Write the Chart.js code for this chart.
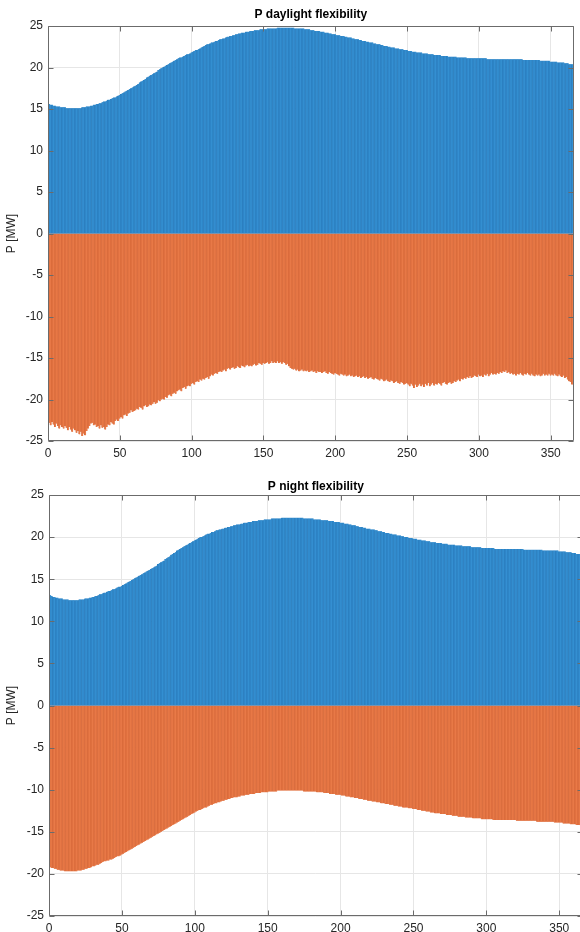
<!DOCTYPE html>
<html>
<head>
<meta charset="utf-8">
<script src="https://cdn.jsdelivr.net/npm/chart.js@4.4.1/dist/chart.umd.min.js"></script>
<style>
  html, body { margin: 0; padding: 0; background: #fff; width: 580px; height: 932px; overflow: hidden; }
  #top { position: absolute; left: 0; top: 0; width: 580px; height: 466px; }
  #bottom { position: absolute; left: 0; top: 466px; width: 590px; height: 466px; }
</style>
</head>
<body>
<div id="top"><canvas id="dayChart"></canvas></div>
<div id="bottom"><canvas id="nightChart"></canvas></div>
<script>
// P daylight flexibility, upward (MW), day 1..365
const dayPos = [
  15.6,15.5,15.5,15.4,15.4,15.3,15.3,15.3,15.2,15.2,
  15.2,15.2,15.1,15.1,15.1,15.1,15.1,15.1,15.1,15.1,
  15.1,15.1,15.1,15.2,15.2,15.2,15.3,15.3,15.3,15.4,
  15.4,15.5,15.5,15.6,15.6,15.7,15.7,15.8,15.9,15.9,
  16.0,16.1,16.1,16.2,16.3,16.4,16.4,16.5,16.6,16.7,
  16.8,16.9,17.0,17.1,17.2,17.3,17.4,17.5,17.6,17.7,
  17.8,17.9,18.0,18.2,18.3,18.4,18.5,18.6,18.8,18.9,
  19.0,19.1,19.2,19.3,19.4,19.5,19.7,19.8,19.9,20.0,
  20.1,20.2,20.3,20.4,20.5,20.6,20.7,20.8,20.9,21.0,
  21.1,21.2,21.2,21.3,21.4,21.5,21.6,21.6,21.7,21.8,
  21.9,22.0,22.1,22.1,22.2,22.3,22.4,22.5,22.6,22.7,
  22.8,22.8,22.9,23.0,23.0,23.1,23.2,23.2,23.3,23.4,
  23.4,23.5,23.5,23.6,23.7,23.7,23.8,23.8,23.9,23.9,
  24.0,24.0,24.1,24.1,24.2,24.2,24.2,24.3,24.3,24.3,
  24.4,24.4,24.4,24.5,24.5,24.5,24.5,24.6,24.6,24.6,
  24.6,24.6,24.7,24.7,24.7,24.7,24.7,24.7,24.7,24.8,
  24.8,24.8,24.8,24.8,24.8,24.8,24.8,24.8,24.8,24.8,
  24.8,24.7,24.7,24.7,24.7,24.7,24.7,24.7,24.6,24.6,
  24.6,24.6,24.5,24.5,24.5,24.4,24.4,24.4,24.4,24.3,
  24.3,24.3,24.2,24.2,24.2,24.1,24.1,24.0,24.0,24.0,
  23.9,23.9,23.9,23.8,23.8,23.8,23.7,23.7,23.6,23.6,
  23.6,23.5,23.5,23.4,23.4,23.4,23.3,23.3,23.2,23.2,
  23.2,23.1,23.1,23.0,23.0,23.0,22.9,22.9,22.8,22.8,
  22.8,22.7,22.7,22.6,22.6,22.6,22.5,22.5,22.4,22.4,
  22.4,22.3,22.3,22.3,22.2,22.2,22.2,22.1,22.1,22.1,
  22.0,22.0,22.0,21.9,21.9,21.9,21.8,21.8,21.8,21.8,
  21.7,21.7,21.7,21.7,21.6,21.6,21.6,21.6,21.5,21.5,
  21.5,21.5,21.5,21.4,21.4,21.4,21.4,21.4,21.3,21.3,
  21.3,21.3,21.3,21.3,21.2,21.2,21.2,21.2,21.2,21.2,
  21.2,21.1,21.1,21.1,21.1,21.1,21.1,21.1,21.1,21.1,
  21.1,21.1,21.1,21.1,21.1,21.0,21.0,21.0,21.0,21.0,
  21.0,21.0,21.0,21.0,21.0,21.0,21.0,21.0,21.0,21.0,
  21.0,21.0,21.0,21.0,21.0,21.0,21.0,21.0,21.0,21.0,
  20.9,20.9,20.9,20.9,20.9,20.9,20.9,20.9,20.9,20.9,
  20.9,20.9,20.8,20.8,20.8,20.8,20.8,20.8,20.8,20.7,
  20.7,20.7,20.7,20.7,20.6,20.6,20.6,20.6,20.6,20.5,
  20.5,20.5,20.4,20.4,20.4
];

// P daylight flexibility, downward (MW)
const dayNeg = [
  -22.8,-23.1,-22.7,-23.0,-23.3,-22.9,-23.2,-23.5,-23.1,-23.3,
  -23.5,-23.2,-23.4,-23.7,-23.3,-23.6,-23.9,-23.5,-23.7,-24.0,
  -23.8,-24.2,-23.9,-24.4,-24.1,-24.3,-23.8,-23.5,-23.2,-22.9,
  -22.8,-23.1,-23.0,-23.3,-23.2,-23.5,-23.1,-23.4,-23.3,-23.6,
  -23.3,-23.0,-23.1,-22.7,-22.9,-23.0,-22.6,-22.4,-22.6,-22.3,
  -22.1,-22.3,-21.9,-21.8,-22.0,-21.7,-21.6,-21.3,-21.5,-21.4,
  -21.3,-21.1,-21.2,-20.9,-21.0,-21.2,-20.8,-20.7,-20.9,-20.8,
  -20.6,-20.7,-20.5,-20.3,-20.5,-20.4,-20.1,-20.2,-20.0,-19.9,
  -20.0,-19.7,-19.8,-19.5,-19.4,-19.6,-19.3,-19.2,-19.3,-19.0,
  -18.9,-18.8,-19.0,-18.6,-18.5,-18.7,-18.4,-18.3,-18.4,-18.1,
  -18.0,-18.2,-17.9,-17.8,-17.9,-17.6,-17.7,-17.5,-17.6,-17.4,
  -17.3,-17.5,-17.2,-17.0,-17.1,-16.9,-16.8,-16.9,-16.7,-16.6,
  -16.7,-16.5,-16.4,-16.6,-16.3,-16.2,-16.4,-16.2,-16.1,-16.3,
  -16.2,-16.0,-16.1,-16.2,-15.9,-16.0,-16.1,-15.9,-15.8,-16.0,
  -15.9,-16.0,-15.8,-15.7,-15.9,-15.8,-15.6,-15.7,-15.8,-15.6,
  -15.7,-15.6,-15.5,-15.7,-15.6,-15.4,-15.6,-15.5,-15.6,-15.4,
  -15.6,-15.5,-15.7,-15.5,-15.6,-15.8,-15.7,-16.0,-16.2,-16.3,
  -16.4,-16.3,-16.5,-16.4,-16.6,-16.5,-16.4,-16.6,-16.5,-16.6,
  -16.5,-16.7,-16.6,-16.5,-16.7,-16.6,-16.8,-16.6,-16.7,-16.7,
  -16.8,-16.7,-16.6,-16.8,-16.9,-16.7,-16.8,-16.9,-17.0,-16.8,
  -16.9,-17.0,-17.1,-16.9,-17.0,-17.1,-17.0,-17.2,-17.1,-17.0,
  -17.2,-17.1,-17.3,-17.2,-17.1,-17.3,-17.2,-17.4,-17.3,-17.2,
  -17.4,-17.3,-17.5,-17.4,-17.3,-17.5,-17.6,-17.4,-17.5,-17.6,
  -17.7,-17.5,-17.6,-17.8,-17.7,-17.6,-17.8,-17.9,-17.7,-17.8,
  -18.0,-17.9,-17.8,-18.0,-18.1,-17.9,-18.0,-18.2,-18.1,-18.0,
  -18.2,-18.4,-18.1,-18.3,-18.6,-18.2,-18.5,-18.3,-18.1,-18.4,
  -18.2,-18.5,-18.1,-18.3,-18.0,-18.4,-18.2,-18.0,-18.3,-18.1,
  -18.2,-18.0,-18.1,-18.3,-18.0,-17.9,-18.1,-18.2,-18.0,-17.9,
  -18.1,-18.0,-17.8,-17.9,-17.7,-17.6,-17.8,-17.5,-17.6,-17.4,
  -17.5,-17.3,-17.4,-17.2,-17.4,-17.3,-17.1,-17.2,-17.3,-17.0,
  -17.2,-17.1,-17.3,-17.0,-17.1,-16.9,-17.2,-17.0,-16.8,-17.0,
  -16.9,-17.0,-16.8,-16.9,-16.7,-16.8,-16.6,-16.7,-16.5,-16.8,
  -16.7,-16.9,-16.8,-17.0,-16.9,-17.1,-16.9,-17.0,-16.8,-17.0,
  -17.1,-16.9,-17.0,-16.8,-17.0,-17.1,-16.9,-17.1,-17.2,-17.0,
  -17.1,-17.0,-17.2,-17.1,-16.9,-17.1,-17.0,-17.1,-16.9,-17.1,
  -17.0,-17.1,-16.9,-17.1,-17.2,-17.0,-17.2,-17.3,-17.1,-17.4,
  -17.3,-17.6,-17.8,-17.9,-18.2
];

// P night flexibility, upward (MW)
const nightPos = [
  13.1,13.0,12.9,12.9,12.8,12.8,12.7,12.7,12.7,12.6,
  12.6,12.6,12.6,12.5,12.5,12.5,12.5,12.5,12.5,12.5,
  12.6,12.6,12.6,12.6,12.7,12.7,12.7,12.8,12.8,12.9,
  12.9,13.0,13.0,13.1,13.2,13.2,13.3,13.4,13.4,13.5,
  13.6,13.6,13.7,13.8,13.8,13.9,14.0,14.1,14.1,14.2,
  14.3,14.4,14.5,14.6,14.7,14.8,14.9,15.0,15.1,15.2,
  15.3,15.4,15.5,15.6,15.7,15.8,15.9,16.0,16.1,16.2,
  16.3,16.4,16.5,16.6,16.8,16.9,17.0,17.1,17.2,17.4,
  17.5,17.6,17.7,17.9,18.0,18.1,18.2,18.4,18.5,18.6,
  18.7,18.8,18.9,19.0,19.1,19.2,19.3,19.4,19.5,19.6,
  19.7,19.8,19.9,20.0,20.0,20.1,20.2,20.3,20.4,20.4,
  20.5,20.6,20.6,20.7,20.8,20.8,20.9,20.9,21.0,21.0,
  21.1,21.1,21.2,21.2,21.3,21.3,21.4,21.4,21.5,21.5,
  21.5,21.6,21.6,21.7,21.7,21.7,21.8,21.8,21.8,21.9,
  21.9,21.9,21.9,22.0,22.0,22.0,22.0,22.1,22.1,22.1,
  22.1,22.1,22.2,22.2,22.2,22.2,22.2,22.2,22.2,22.3,
  22.3,22.3,22.3,22.3,22.3,22.3,22.3,22.3,22.3,22.3,
  22.3,22.3,22.3,22.3,22.2,22.2,22.2,22.2,22.2,22.2,
  22.2,22.1,22.1,22.1,22.1,22.1,22.0,22.0,22.0,22.0,
  22.0,21.9,21.9,21.9,21.9,21.8,21.8,21.8,21.8,21.7,
  21.7,21.7,21.6,21.6,21.6,21.5,21.5,21.4,21.4,21.4,
  21.3,21.3,21.2,21.2,21.2,21.1,21.1,21.0,21.0,21.0,
  20.9,20.9,20.9,20.8,20.8,20.7,20.7,20.7,20.6,20.6,
  20.5,20.5,20.5,20.4,20.4,20.3,20.3,20.3,20.2,20.2,
  20.2,20.1,20.1,20.0,20.0,20.0,19.9,19.9,19.9,19.8,
  19.8,19.8,19.7,19.7,19.7,19.6,19.6,19.6,19.5,19.5,
  19.5,19.4,19.4,19.4,19.4,19.3,19.3,19.3,19.3,19.2,
  19.2,19.2,19.2,19.1,19.1,19.1,19.1,19.1,19.0,19.0,
  19.0,19.0,19.0,18.9,18.9,18.9,18.9,18.9,18.9,18.8,
  18.8,18.8,18.8,18.8,18.8,18.8,18.7,18.7,18.7,18.7,
  18.7,18.7,18.7,18.7,18.7,18.6,18.6,18.6,18.6,18.6,
  18.6,18.6,18.6,18.6,18.6,18.6,18.6,18.6,18.6,18.6,
  18.6,18.6,18.6,18.6,18.6,18.5,18.5,18.5,18.5,18.5,
  18.5,18.5,18.5,18.5,18.5,18.5,18.5,18.5,18.4,18.4,
  18.4,18.4,18.4,18.4,18.4,18.4,18.4,18.4,18.4,18.3,
  18.3,18.3,18.3,18.3,18.2,18.2,18.2,18.2,18.1,18.1,
  18.1,18.0,18.0,18.0,17.9
];

// P night flexibility, downward (MW)
const nightNeg = [
  -19.2,-19.3,-19.3,-19.4,-19.4,-19.5,-19.5,-19.6,-19.6,-19.6,
  -19.7,-19.7,-19.7,-19.7,-19.7,-19.7,-19.7,-19.7,-19.7,-19.6,
  -19.6,-19.6,-19.5,-19.5,-19.4,-19.4,-19.3,-19.3,-19.2,-19.1,
  -19.1,-19.0,-18.9,-18.9,-18.8,-18.7,-18.6,-18.5,-18.5,-18.4,
  -18.4,-18.3,-18.3,-18.2,-18.1,-18.0,-17.9,-17.9,-17.8,-17.7,
  -17.6,-17.5,-17.4,-17.3,-17.2,-17.1,-17.0,-16.9,-16.8,-16.7,
  -16.6,-16.5,-16.4,-16.3,-16.2,-16.1,-16.0,-15.9,-15.8,-15.7,
  -15.6,-15.5,-15.4,-15.3,-15.2,-15.1,-15.0,-14.9,-14.8,-14.7,
  -14.6,-14.5,-14.4,-14.3,-14.2,-14.1,-14.0,-13.9,-13.8,-13.7,
  -13.6,-13.5,-13.4,-13.3,-13.2,-13.1,-13.0,-12.9,-12.8,-12.7,
  -12.6,-12.5,-12.4,-12.4,-12.3,-12.2,-12.1,-12.1,-12.0,-11.9,
  -11.8,-11.8,-11.7,-11.6,-11.6,-11.5,-11.5,-11.4,-11.3,-11.3,
  -11.2,-11.2,-11.1,-11.1,-11.0,-11.0,-10.9,-10.9,-10.9,-10.8,
  -10.8,-10.7,-10.7,-10.7,-10.6,-10.6,-10.6,-10.5,-10.5,-10.5,
  -10.5,-10.4,-10.4,-10.4,-10.4,-10.3,-10.3,-10.3,-10.3,-10.3,
  -10.2,-10.2,-10.2,-10.2,-10.2,-10.2,-10.1,-10.1,-10.1,-10.1,
  -10.1,-10.1,-10.1,-10.1,-10.1,-10.1,-10.1,-10.1,-10.1,-10.1,
  -10.1,-10.1,-10.1,-10.1,-10.2,-10.2,-10.2,-10.2,-10.2,-10.2,
  -10.2,-10.2,-10.2,-10.3,-10.3,-10.3,-10.3,-10.3,-10.4,-10.4,
  -10.4,-10.4,-10.5,-10.5,-10.5,-10.5,-10.6,-10.6,-10.6,-10.6,
  -10.7,-10.7,-10.7,-10.8,-10.8,-10.8,-10.9,-10.9,-10.9,-11.0,
  -11.0,-11.0,-11.1,-11.1,-11.1,-11.2,-11.2,-11.2,-11.3,-11.3,
  -11.3,-11.4,-11.4,-11.4,-11.5,-11.5,-11.5,-11.6,-11.6,-11.6,
  -11.7,-11.7,-11.7,-11.8,-11.8,-11.8,-11.9,-11.9,-11.9,-12.0,
  -12.0,-12.0,-12.1,-12.1,-12.1,-12.1,-12.2,-12.2,-12.2,-12.3,
  -12.3,-12.3,-12.4,-12.4,-12.4,-12.5,-12.5,-12.5,-12.6,-12.6,
  -12.6,-12.7,-12.7,-12.7,-12.8,-12.8,-12.8,-12.8,-12.9,-12.9,
  -12.9,-12.9,-13.0,-13.0,-13.0,-13.0,-13.1,-13.1,-13.1,-13.1,
  -13.2,-13.2,-13.2,-13.2,-13.2,-13.3,-13.3,-13.3,-13.3,-13.3,
  -13.4,-13.4,-13.4,-13.4,-13.4,-13.4,-13.5,-13.5,-13.5,-13.5,
  -13.5,-13.5,-13.5,-13.5,-13.6,-13.6,-13.6,-13.6,-13.6,-13.6,
  -13.6,-13.6,-13.6,-13.6,-13.6,-13.6,-13.6,-13.6,-13.6,-13.6,
  -13.7,-13.7,-13.7,-13.7,-13.7,-13.7,-13.7,-13.7,-13.7,-13.7,
  -13.7,-13.7,-13.7,-13.7,-13.8,-13.8,-13.8,-13.8,-13.8,-13.8,
  -13.8,-13.8,-13.8,-13.8,-13.8,-13.8,-13.9,-13.9,-13.9,-13.9,
  -13.9,-13.9,-14.0,-14.0,-14.0,-14.0,-14.0,-14.1,-14.1,-14.1,
  -14.1,-14.2,-14.2,-14.2,-14.3
];

// day index 1..365 (category positions)
const days = dayPos.map((v, i) => i + 1);
const xTickValues = [0, 50, 100, 150, 200, 250, 300, 350];
const yTickValues = [-25, -20, -15, -10, -5, 0, 5, 10, 15, 20, 25];

const BLUE = '#3590d2', BLUE_EDGE = '#2371b1';
const ORANGE = '#e97a48', ORANGE_EDGE = '#cc5e30';
const FONT = 'Liberation Sans, Arial, Helvetica, sans-serif';

// inward ticks and a closed box, MATLAB style
const boxTicks = {
  id: 'boxTicks',
  afterDatasetsDraw(chart) {
    const { ctx, chartArea: a, scales: { x, y } } = chart;
    const L = Math.round(a.left) + 0.5, R = Math.round(a.right) - 0.5;
    const T = Math.round(a.top) + 0.5, B = Math.round(a.bottom) - 0.5;
    ctx.save();
    ctx.strokeStyle = '#6b6b6b';
    ctx.lineWidth = 1;
    ctx.beginPath();
    ctx.rect(L, T, R - L, B - T);
    x.ticks.forEach(t => {
      const px = Math.round(x.getPixelForValue(t.value)) + 0.5;
      ctx.moveTo(px, B); ctx.lineTo(px, B - 5);
      ctx.moveTo(px, T); ctx.lineTo(px, T + 5);
    });
    y.ticks.forEach(t => {
      const py = Math.round(y.getPixelForValue(t.value)) + 0.5;
      ctx.moveTo(L, py); ctx.lineTo(L + 5, py);
      ctx.moveTo(R, py); ctx.lineTo(R - 5, py);
    });
    ctx.stroke();
    ctx.restore();
  }
};

function makeChart(id, title, pos, neg, opts) {
  const bar = (data, bg, edge) => ({
    data: data.map((v, i) => ({ x: days[i], y: v })),
    backgroundColor: bg,
    borderColor: edge,
    borderWidth: { left: 0.5, right: 0, top: 0, bottom: 0 },
    borderSkipped: false,
    barPercentage: 1,
    categoryPercentage: 1,
    inflateAmount: 0.6
  });
  return new Chart(document.getElementById(id), {
    type: 'bar',
    data: { datasets: [bar(pos, BLUE, BLUE_EDGE), bar(neg, ORANGE, ORANGE_EDGE)] },
    options: {
      responsive: true,
      maintainAspectRatio: false,
      animation: false,
      layout: { padding: { left: 0, right: opts.padRight, top: 0, bottom: 0 } },
      plugins: {
        legend: { display: false },
        tooltip: { enabled: false },
        title: {
          display: true,
          text: title,
          fullSize: false,
          color: '#000',
          font: { family: FONT, size: 12, weight: 'bold' },
          padding: opts.titlePad
        }
      },
      scales: {
        x: {
          type: 'linear',
          stacked: true,
          offset: false,
          min: 0,
          max: 366,
          afterBuildTicks: s => { s.ticks = xTickValues.map(v => ({ value: v })); },
          afterFit: s => { s.height = opts.xHeight; },
          ticks: { color: '#262626', padding: 5, maxRotation: 0, autoSkip: false, font: { family: FONT, size: 12 } },
          grid: { color: '#e6e6e6', drawTicks: false, offset: false },
          border: { display: false }
        },
        y: {
          stacked: true,
          min: -25,
          max: 25,
          afterBuildTicks: s => { s.ticks = yTickValues.map(v => ({ value: v })); },
          afterFit: s => { s.width = opts.yWidth; },
          ticks: { color: '#262626', padding: 5, autoSkip: false, font: { family: FONT, size: 12 } },
          grid: {
            color: '#e6e6e6',
            drawTicks: false,
            lineWidth: c => (c.tick && c.tick.value === 0 ? 0 : 1)
          },
          border: { display: false },
          title: { display: true, text: 'P [MW]', color: '#262626', font: { family: FONT, size: 12 }, padding: { top: 4, bottom: 0 } }
        }
      }
    },
    plugins: [boxTicks]
  });
}

makeChart('dayChart', 'P daylight flexibility', dayPos, dayNeg,
  { padRight: 6.3, yWidth: 48, xHeight: 25, titlePad: { top: 7, bottom: 4.6 } });
makeChart('nightChart', 'P night flexibility', nightPos, nightNeg,
  { padRight: 7.4, yWidth: 49, xHeight: 16, titlePad: { top: 13.8, bottom: 0.8 } });
</script>
</body>
</html>
